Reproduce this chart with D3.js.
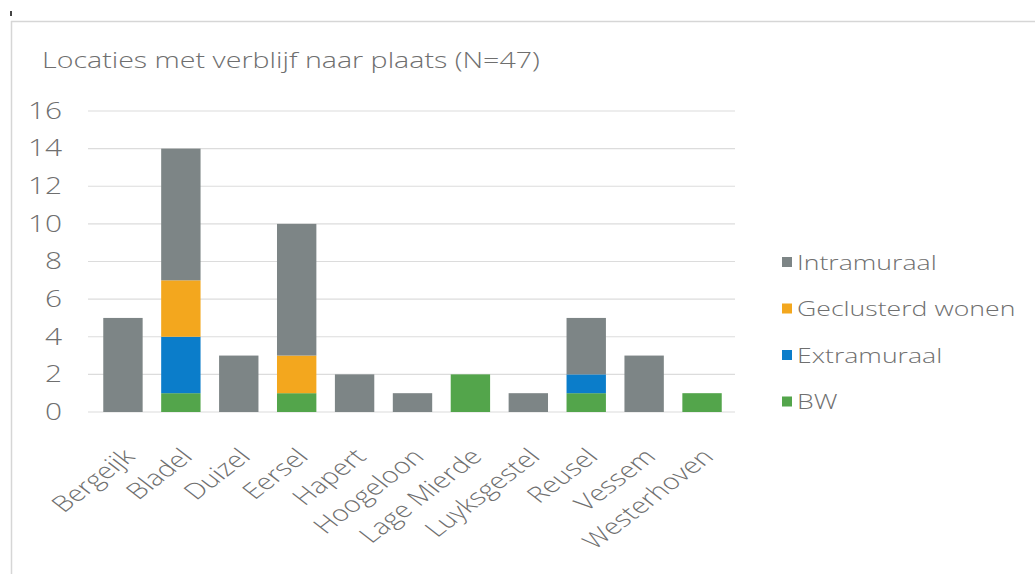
<!DOCTYPE html>
<html>
<head>
<meta charset="utf-8">
<script src="https://cdn.jsdelivr.net/npm/d3@7"></script>
<style>
  html, body { margin: 0; padding: 0; background: #fff; }
  svg { display: block; }
  text { font-family: "Open Sans", sans-serif; font-weight: 300; fill: #6f6f6f; }
</style>
</head>
<body>
<svg id="chart" width="1035" height="574"></svg>
<script>
const title = "Locaties met verblijf naar plaats (N=47)";
const categories = ["Bergeijk", "Bladel", "Duizel", "Eersel", "Hapert", "Hoogeloon", "Lage Mierde", "Luyksgestel", "Reusel", "Vessem", "Westerhoven"];
const seriesNames = ["BW", "Extramuraal", "Geclusterd wonen", "Intramuraal"];
const bw          = [0, 1, 0, 1, 0, 0, 2, 0, 1, 0, 1];
const extramuraal = [0, 3, 0, 0, 0, 0, 0, 0, 1, 0, 0];
const geclusterd  = [0, 3, 0, 2, 0, 0, 0, 0, 0, 0, 0];
const intramuraal = [5, 7, 3, 7, 2, 1, 0, 1, 3, 3, 0];
const yTicks = [0, 2, 4, 6, 8, 10, 12, 14, 16];
const legendOrder = ["Intramuraal", "Geclusterd wonen", "Extramuraal", "BW"];
const colors = {"BW": "#53a54b", "Extramuraal": "#0b7dca", "Geclusterd wonen": "#f3a71e", "Intramuraal": "#7d8586"};

const seriesValues = {"BW": bw, "Extramuraal": extramuraal, "Geclusterd wonen": geclusterd, "Intramuraal": intramuraal};
const rows = categories.map((c, i) => {
  const r = {cat: c};
  seriesNames.forEach(s => r[s] = seriesValues[s][i]);
  return r;
});

// the reference picture is horizontally stretched; text is widened to match
const SX = 1.3;

const svg = d3.select("#chart");

// frame
svg.append("line").attr("x1", 11).attr("x2", 1035).attr("y1", 21.5).attr("y2", 21.5).attr("stroke", "#d6d6d6").attr("stroke-width", 1.5);
svg.append("line").attr("x1", 11.5).attr("x2", 11.5).attr("y1", 21).attr("y2", 574).attr("stroke", "#d6d6d6").attr("stroke-width", 1.5);
svg.append("rect").attr("x", 10).attr("y", 11).attr("width", 2).attr("height", 5).attr("fill", "#444");

// title
svg.append("text").attr("transform", `translate(42,68) scale(${SX},1)`).attr("font-size", 22).text(title);

const x = d3.scaleBand().domain(categories).range([94, 731]).paddingInner(0.32).paddingOuter(0.16);
const y = d3.scaleLinear().domain([0, 16]).range([412, 111]);

// grid
svg.append("g").selectAll("line").data(yTicks).join("line")
  .attr("x1", 88).attr("x2", 735)
  .attr("y1", d => y(d)).attr("y2", d => y(d))
  .attr("stroke", "#dcdcdc").attr("stroke-width", 1.2);

// y axis
const yAxis = svg.append("g").attr("transform", "translate(62,0)")
  .call(d3.axisLeft(y).tickValues(yTicks).tickSize(0).tickPadding(0));
yAxis.select(".domain").remove();
yAxis.selectAll("text").attr("font-size", 23).attr("fill", "#707070")
  .attr("font-family", "Open Sans, sans-serif").attr("font-weight", 300)
  .attr("transform", `scale(${SX},1)`);

// bars
const stack = d3.stack().keys(seriesNames)(rows);
svg.append("g").selectAll("g").data(stack).join("g")
  .attr("fill", d => colors[d.key])
  .selectAll("rect").data(d => d).join("rect")
  .attr("x", d => x(d.data.cat))
  .attr("width", x.bandwidth())
  .attr("y", d => y(d[1]))
  .attr("height", d => y(d[0]) - y(d[1]));

// x labels
const xAxis = svg.append("g").attr("transform", "translate(0,412)")
  .call(d3.axisBottom(x).tickSize(0).tickPadding(0));
xAxis.select(".domain").remove();
xAxis.selectAll("text")
  .attr("font-size", 22).attr("fill", "#7b7b7b").attr("font-family", "Open Sans, sans-serif").attr("font-weight", 300)
  .attr("text-anchor", "end").attr("dy", 0).attr("y", 0)
  .attr("transform", `translate(13,46) scale(${SX},1) rotate(-45)`);

// legend
const lg = svg.append("g").selectAll("g").data(legendOrder).join("g")
  .attr("transform", (d, i) => `translate(782,${262 + i * 46.5})`);
lg.append("rect").attr("x", 0).attr("y", -5).attr("width", 10).attr("height", 10).attr("fill", d => colors[d]);
lg.append("text").attr("transform", `translate(15,7.5) scale(${SX},1)`).attr("font-size", 20.5).attr("fill", "#707070").text(d => d);
</script>
</body>
</html>
